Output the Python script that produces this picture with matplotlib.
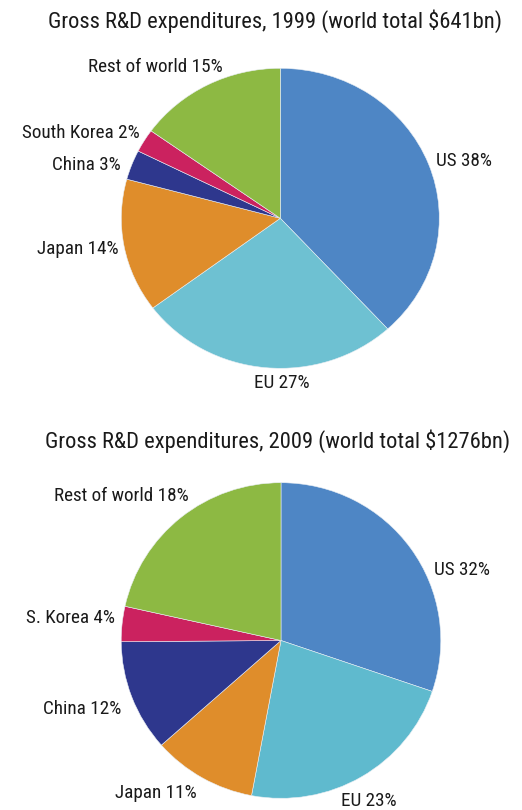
import matplotlib
matplotlib.use('Agg')
import matplotlib.pyplot as plt
from matplotlib import font_manager as fm

# ---- data ----
categories = ['US', 'EU', 'Japan', 'China', 'South Korea', 'Rest of world']
shares_1999 = [38.2, 26.6, 14.4, 3.2, 2.5, 15.1]
labels_1999 = ['US 38%', 'EU 27%', 'Japan 14%', 'China 3%', 'South Korea 2%', 'Rest of world 15%']
shares_2009 = [30.2, 22.7, 10.5, 11.4, 3.6, 21.5]
labels_2009 = ['US 32%', 'EU 23%', 'Japan 11%', 'China 12%', 'S. Korea 4%', 'Rest of world 18%']
title_1999 = 'Gross R&D expenditures, 1999 (world total $641bn)'
title_2009 = 'Gross R&D expenditures, 2009 (world total $1276bn)'

colors_1999 = ['#4E86C5', '#6EC1D2', '#DF8D2B', '#2E378D', '#CB225F', '#8DB943']
colors_2009 = ['#4E86C5', '#5FBACE', '#DF8D2B', '#2E378D', '#CB225F', '#8DB943']


def pick_font(cands):
    for c in cands:
        try:
            fm.findfont(fm.FontProperties(family=c), fallback_to_default=False)
            return c
        except Exception:
            pass
    return 'DejaVu Sans'


FONT = pick_font(['Roboto Condensed', 'Liberation Sans Narrow', 'Open Sans', 'Roboto'])
plt.rcParams['font.family'] = [FONT, 'DejaVu Sans']

W, H = 522, 810
fig = plt.figure(figsize=(W / 100, H / 100), dpi=100)
fig.patch.set_facecolor('white')


def px_axes(x0, y0, x1, y1):
    return fig.add_axes([x0 / W, 1 - y1 / H, (x1 - x0) / W, (y1 - y0) / H])


def draw_pie(box, shares, colors):
    ax = px_axes(*box)
    ax.pie(shares, colors=colors, startangle=90, counterclock=False,
           radius=1.0, wedgeprops=dict(linewidth=0.4, edgecolor='#e8eef4'))
    ax.set_aspect('auto')
    ax.set_xlim(-1, 1)
    ax.set_ylim(-1, 1)
    ax.axis('off')
    return ax


def ftext(x, y, s, ha, size):
    fig.text(x / W, 1 - y / H, s, ha=ha, va='center', fontsize=size, color='#1a1a1a')


# ---- top pie (1999) ----
draw_pie((121.3, 68.3, 439.3, 368.3), shares_1999, colors_1999)
ftext(275, 21.5, title_1999, 'center', 16.2)
pos_1999 = [(436.5, 161.5, 'left'), (281.5, 383, 'center'), (118.5, 249.5, 'right'),
            (121, 165, 'right'), (139.5, 132.5, 'right'), (222.5, 67, 'right')]
for (x, y, ha), lab in zip(pos_1999, labels_1999):
    ftext(x, y, lab, ha, 13.8)

# ---- bottom pie (2009) ----
draw_pie((121.2, 482.7, 440.8, 798.3), shares_2009, colors_2009)
ftext(278, 441.5, title_2009, 'center', 16.2)
pos_2009 = [(434.5, 570, 'left'), (368.5, 801.5, 'center'), (196.5, 792.5, 'right'),
            (121, 708.5, 'right'), (114.5, 618, 'right'), (188.5, 496, 'right')]
for (x, y, ha), lab in zip(pos_2009, labels_2009):
    ftext(x, y, lab, ha, 13.8)

fig.savefig('out.png', dpi=100, facecolor='white')
